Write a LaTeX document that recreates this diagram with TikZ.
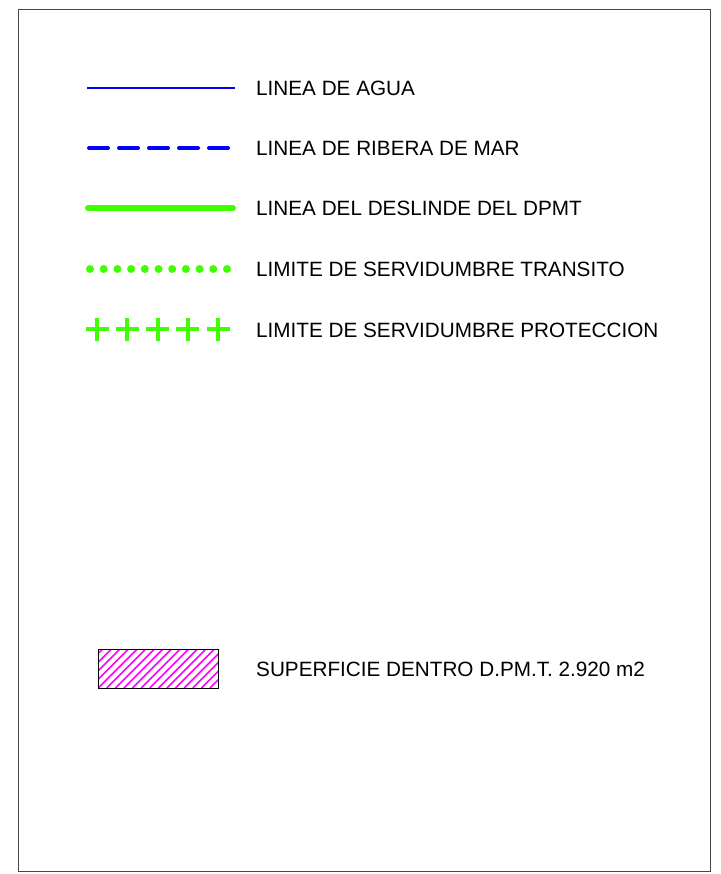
\documentclass[tikz,border=0pt]{standalone}
\usepackage{fontspec}
\setmainfont{Liberation Sans}
\definecolor{lgreen}{RGB}{64,255,0}
\definecolor{lblue}{RGB}{0,0,255}
\definecolor{hatchmag}{RGB}{255,0,255}
\definecolor{framegray}{RGB}{70,70,70}
\begin{document}
\begin{tikzpicture}[x=1pt,y=-1pt,
  lbl/.style={anchor=base west,inner sep=0pt,font=\fontsize{20.7}{24}\selectfont,text=black},
  waterline/.style={draw=lblue,line width=2pt},
  riberaline/.style={draw=lblue,line width=4pt,line cap=round,dash pattern=on 19pt off 11pt},
  deslindeline/.style={draw=lgreen,line width=6pt,line cap=round},
  transdot/.style={fill=lgreen},
  plusmark/.style={draw=lgreen,line width=4pt}
]
\useasboundingbox (0,0) rectangle (720,874);
\fill[white] (0,0) rectangle (720,874);
\draw[framegray,line width=1pt] (18.5,10) rectangle (710,871);

% line 1
\coordinate (a1) at (87,88);
\coordinate (a2) at (235,88);
\draw[waterline] (a1) -- (a2);
\node[lbl] (t1) at (256,95.7) {LINEA DE AGUA};

% line 2
\coordinate (b1) at (89,148);
\coordinate (b2) at (228,148);
\draw[riberaline] (b1) -- (b2);
\node[lbl] (t2) at (256,155.7) {LINEA DE RIBERA DE MAR};

% line 3
\coordinate (c1) at (88,208);
\coordinate (c2) at (233,208);
\draw[deslindeline] (c1) -- (c2);
\node[lbl] (t3) at (256,215.7) {LINEA DEL DESLINDE DEL DPMT};

% line 4 dots
\foreach \i in {0,...,10} {
  \fill[transdot] ({90+13.7*\i},269) circle (4);
}
\node[lbl] (t4) at (256,276.5) {LIMITE DE SERVIDUMBRE TRANSITO};

% line 5 plus
\foreach \cx in {97,127.25,157.5,187.75,218} {
  \draw[plusmark] (\cx-11.5,329) -- (\cx+11.5,329);
  \draw[plusmark] (\cx,317.5) -- (\cx,340.5);
}
\node[lbl] (t5) at (256,337) {LIMITE DE SERVIDUMBRE PROTECCION};

% hatched rectangle
\begin{scope}
  \clip (98,649) rectangle (218,688);
  \foreach \k in {-60,-51.4,...,130} {
    \draw[hatchmag,line width=1.6pt] (98+\k,688) -- (98+\k+60,628);
  }
\end{scope}
\draw[black,line width=1pt] (98,649) rectangle (218,688);
\node[lbl] (t6) at (256,676.7) {SUPERFICIE DENTRO D.PM.T. 2.920 m2};
\end{tikzpicture}
\end{document}
